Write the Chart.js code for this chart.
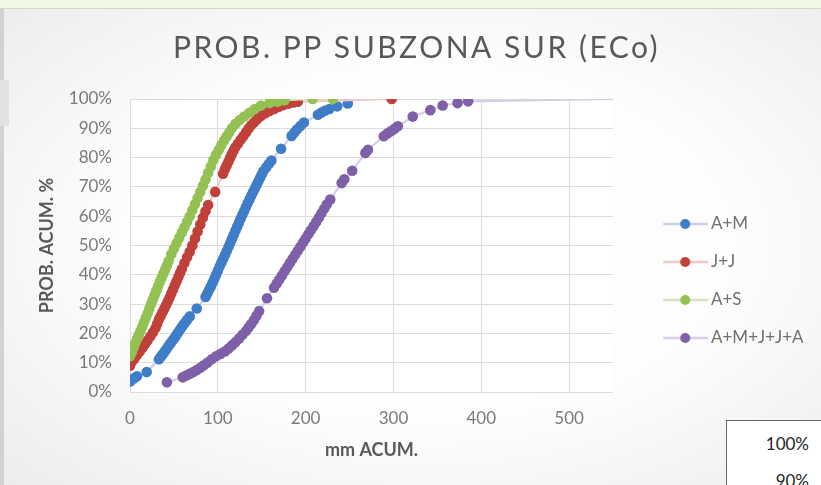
<!DOCTYPE html>
<html>
<head>
<meta charset="utf-8">
<script src="https://cdn.jsdelivr.net/npm/chart.js@4.4.1/dist/chart.umd.min.js"></script>
<style>
  html, body { margin:0; padding:0; }
  body { width:821px; height:485px; overflow:hidden; position:relative;
    background: radial-gradient(ellipse 75% 75% at 52% 50%, #ffffff 0%, #fdfdfd 50%, #ebebeb 100%); }
  #wrap { position:absolute; left:0; top:0; width:821px; height:485px; }
  #topstrip { position:absolute; left:0; top:0; width:821px; height:8px; background:#f1f8e3; border-bottom:1px solid #d2d8c8; z-index:2; }
  #leftstrip { position:absolute; left:0; top:9px; width:4px; height:476px; background:#d2d2d2; z-index:2; }
  #leftblock { position:absolute; left:0; top:80px; width:9px; height:46px; background:#e2e2e2; z-index:2; }
  #cellbox { position:absolute; left:726px; top:420px; width:110px; height:80px; background:#ffffff;
    border-left:1px solid #666; border-top:1px solid #666; z-index:3; font-family:Lato, sans-serif; font-size:17px; color:#262626; }
  #cellbox div { position:absolute; right:28px; }
</style>
</head>
<body>
<div id="wrap"><canvas id="c" width="821" height="485"></canvas></div>
<div id="topstrip"></div>
<div id="leftstrip"></div>
<div id="leftblock"></div>
<div id="cellbox"><div style="top:12px">100%</div><div style="top:49px">90%</div></div>
<script>
// ---- data (mm accumulated, cumulative probability %) ----
const seriesNames = ['A+M', 'J+J', 'A+S', 'A+M+J+J+A'];
const xTicks = [0, 100, 200, 300, 400, 500];
const yTicks = [0, 0.1, 0.2, 0.3, 0.4, 0.5, 0.6, 0.7, 0.8, 0.9, 1.0];

const amX = [0,2,5,8,19,33,35,37,39,41,43,45,47,49,51,53,55,57,59,61,63,65,68,76,86,88,90,92,94,96,98,100,102,104,106,108,110,112,114,116,118,120,122,124,126,128,130,132,134,136,138,140,142,144,146,148,150,152,155,158,161,172,184,187,190,194,198,214,218,222,227,236,248];
const amY = [3.6,4.2,4.8,5.4,6.8,11.2,12.0,12.8,13.6,14.4,15.3,16.2,17.0,17.8,18.6,19.5,20.4,21.3,22.2,23.0,23.8,24.6,25.8,28.5,32.4,33.6,34.8,36.0,37.3,38.6,40.0,41.4,42.8,44.1,45.4,46.7,48.0,49.4,50.8,52.2,53.6,55.0,56.4,57.8,59.2,60.5,61.8,63.1,64.4,65.7,67.0,68.2,69.4,70.6,71.8,73.0,74.2,75.4,76.6,77.8,79.0,83.0,87.4,88.5,89.6,90.8,92.0,94.6,95.4,96.0,96.6,97.5,98.5];

const jjX = [0,2,5,8,11,14,17,20,23,26,29,31,33,35,37,39,41,43,45,47,49,51,53,55,57,59,62,65,68,71,74,77,80,83,86,89,97,106,108,110,112,114,116,118,120,123,126,129,132,135,138,141,145,149,154,159,164,169,174,180,186,191,298];
const jjY = [9.0,10.2,11.4,12.6,13.8,15.0,16.3,17.6,18.9,20.3,21.8,23.3,24.8,26.0,27.2,28.4,29.6,30.9,32.2,33.6,35.0,36.4,37.8,39.2,40.6,42.0,44.0,46.0,47.9,50.0,52.4,54.8,57.2,59.5,61.7,63.8,68.3,74.5,76.0,77.3,78.6,79.9,81.2,82.4,83.5,84.8,86.1,87.3,88.6,89.9,91.0,92.0,93.2,94.2,95.1,95.9,96.6,97.3,97.9,98.4,98.8,99.1,100];

const asX = [0,2,4,6,8,10,12,14,16,18,20,22,24,26,28,30,32,34,36,38,40,42,44,47,50,53,56,59,62,65,68,71,74,77,80,83,86,89,92,95,98,101,104,107,110,113,116,120,125,130,136,142,149,159,168,176,208,231];
const asY = [12.2,13.6,15.1,16.6,18.1,19.5,20.9,22.3,23.8,25.3,26.8,28.4,30.0,31.6,33.1,34.6,36.1,37.6,39.0,40.4,41.8,43.2,44.7,47.0,48.9,50.8,52.6,54.4,56.2,58.1,60.0,62.0,64.1,66.2,68.3,70.4,72.5,74.8,77.0,79.2,81.0,82.6,84.2,85.8,87.2,88.6,90.0,91.5,92.8,94.0,95.3,96.6,97.8,98.6,99.1,99.6,100,100];

const allX = [42,60,64,68,72,76,80,84,88,93,98,103,108,112,116,120,124,128,132,135,138,141,144,147,156,164,167,170,173,176,179,182,185,188,191,194,197,200,203,206,209,212,215,218,221,224,228,241,244,253,268,271,289,293,297,301,305,322,342,356,373,385,550];
const allY = [3.3,5.0,5.6,6.2,6.8,7.5,8.3,9.1,10.0,11.2,12.2,13.0,13.8,14.8,15.9,17.0,18.2,19.5,20.8,22.0,23.2,24.5,26.0,27.6,32.0,35.6,37.0,38.4,39.8,41.2,42.6,44.0,45.4,46.8,48.2,49.6,51.0,52.4,53.8,55.2,56.6,58.0,59.5,61.0,62.5,64.0,65.7,71.3,72.6,75.5,81.6,82.7,87.3,88.2,89.0,89.8,90.7,94.0,96.2,97.8,98.6,99.2,100];

// ---- styles ----
const markerColors = ['#3f7dc8', '#c0403a', '#93c152', '#7e5fa8'];
const lineColors = ['#c9d0e8', '#efc9c9', '#d8e4c4', '#d6cee6'];
const xMax = 550;

function pts(xs, ys) { return xs.map((x, i) => ({ x: x, y: ys[i] / 100 })); }
const seriesData = [pts(amX, amY), pts(jjX, jjY), pts(asX, asY), pts(allX, allY)];

function legendIcon(i) {
  const c = document.createElement('canvas');
  c.width = 80; c.height = 12;
  const g = c.getContext('2d');
  g.strokeStyle = lineColors[i]; g.lineWidth = 2.5;
  g.beginPath(); g.moveTo(35, 6); g.lineTo(80, 6); g.stroke();
  g.fillStyle = markerColors[i];
  g.beginPath(); g.arc(57, 6, 5, 0, Math.PI * 2); g.fill();
  return c;
}
const icons = seriesNames.map((_, i) => legendIcon(i));

const plotBg = { id: 'plotBg', beforeDraw(chart) {
  const a = chart.chartArea, c = chart.ctx;
  c.save(); c.fillStyle = '#ffffff'; c.fillRect(a.left, a.top, a.right - a.left, a.bottom - a.top); c.restore();
  const t = chart.titleBlock;
  if (t && !t.__ls) {
    const orig = t.draw.bind(t);
    t.draw = function () { const cx = chart.ctx; cx.save(); cx.letterSpacing = '2.5px'; orig(); cx.restore(); };
    t.__ls = true;
  }
}};

new Chart(document.getElementById('c'), {
  type: 'scatter',
  data: {
    datasets: seriesNames.map((name, i) => ({
      label: name,
      data: seriesData[i],
      showLine: true,
      borderColor: lineColors[i],
      borderWidth: 2.2,
      backgroundColor: markerColors[i],
      pointBackgroundColor: markerColors[i],
      pointBorderColor: markerColors[i],
      pointBorderWidth: 0,
      pointRadius: (ctx) => (ctx.raw && ctx.raw.x >= xMax ? 0 : 5.3),
      order: 4 - i
    }))
  },
  options: {
    responsive: false,
    animation: false,
    layout: { padding: { left: 30, right: 18, top: 0, bottom: 0 } },
    plugins: {
      tooltip: { enabled: false },
      title: {
        display: true, text: 'PROB. PP SUBZONA SUR (ECo)', color: '#595959',
        font: { family: 'Lato', size: 30, weight: 'normal' },
        padding: { top: 30, bottom: 33 }
      },
      legend: {
        position: 'right', align: 'center', maxWidth: 190,
        title: { display: true, text: ' ', font: { size: 10 }, padding: { top: 0, bottom: 65 } },
        labels: {
          usePointStyle: true, pointStyleWidth: 68.5, padding: 21, color: '#707070',
          font: { family: 'Lato', size: 17 },
          generateLabels: (chart) => chart.data.datasets.map((ds, i) => ({
            text: ds.label, pointStyle: icons[i], datasetIndex: i, hidden: false,
            fillStyle: markerColors[i], strokeStyle: markerColors[i], lineWidth: 0, fontColor: '#707070'
          }))
        }
      }
    },
    scales: {
      x: {
        type: 'linear', min: 0, max: xMax,
        afterBuildTicks: (axis) => { axis.ticks = xTicks.map(v => ({ value: v })); },
        afterFit: (s) => { s.height = 93; },
        grid: { color: '#dcdcdc', lineWidth: 1, drawTicks: false },
        border: { display: false },
        ticks: { color: '#7a7a7a', font: { family: 'Lato', size: 17 }, padding: 16, maxRotation: 0 },
        title: { display: true, text: 'mm ACUM.', color: '#595959', font: { family: 'Lato', size: 18, weight: 'bold' }, padding: { top: 0, bottom: 24 } }
      },
      y: {
        type: 'linear', min: 0, max: 1,
        afterBuildTicks: (axis) => { axis.ticks = yTicks.map(v => ({ value: v })); },
        afterFit: (s) => { s.width = 100; },
        grid: { color: '#dcdcdc', lineWidth: 1, drawTicks: false },
        border: { display: false },
        ticks: { color: '#7a7a7a', font: { family: 'Lato', size: 17 }, padding: 18,
          callback: (v) => Math.round(v * 100) + '%' },
        title: { display: true, text: 'PROB. ACUM. %', color: '#595959', font: { family: 'Lato', size: 18, weight: 'bold' }, padding: { top: 6, bottom: 0 } }
      }
    }
  },
  plugins: [plotBg]
});
</script>
</body>
</html>
